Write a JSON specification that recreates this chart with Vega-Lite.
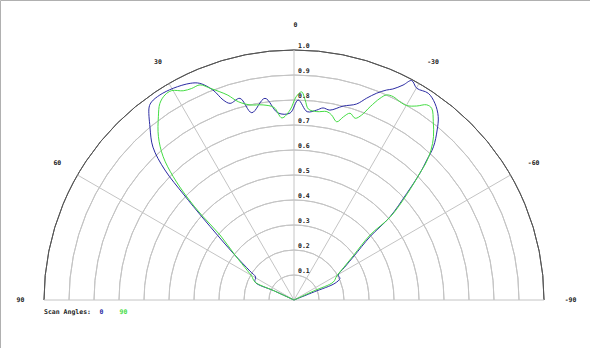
{
"$schema":"https://vega.github.io/schema/vega-lite/v6.json",
"width":590,"height":348,
"autosize":{"type":"fit","contains":"padding"},
"padding":0,
"background":"#ffffff",
"view":{"stroke":"#b0b0b0","strokeWidth":1},
"config":{"font":"DejaVu Sans Mono"},
"datasets":{
 "rings":[{"r":0.1,"label":"0.1"},{"r":0.2,"label":"0.2"},{"r":0.3,"label":"0.3"},{"r":0.4,"label":"0.4"},{"r":0.5,"label":"0.5"},{"r":0.6,"label":"0.6"},{"r":0.7,"label":"0.7"},{"r":0.8,"label":"0.8"},{"r":0.9,"label":"0.9"},{"r":1.0,"label":"1.0"}],
 "spokes":[{"a":0},{"a":30},{"a":-30},{"a":60},{"a":-60},{"a":90},{"a":-90}],
 "angleLabels":[{"a":0,"label":"0"},{"a":30,"label":"30"},{"a":-30,"label":"-30"},{"a":60,"label":"60"},{"a":-60,"label":"-60"},{"a":90,"label":"90"},{"a":-90,"label":"-90"}],
 "patterns":[
  {"scan":"0","angle":90,"r":0},{"scan":"0","angle":65.2,"r":0.086},{"scan":"0","angle":65.2,"r":0.172},{"scan":"0","angle":59.1,"r":0.179},{"scan":"0","angle":56.7,"r":0.211},{"scan":"0","angle":52.4,"r":0.308},{"scan":"0","angle":48.0,"r":0.49},{"scan":"0","angle":46.3,"r":0.608},{"scan":"0","angle":44.8,"r":0.733},{"scan":"0","angle":42.7,"r":0.832},{"scan":"0","angle":39.8,"r":0.9},{"scan":"0","angle":36.9,"r":0.965},{"scan":"0","angle":35.7,"r":0.976},{"scan":"0","angle":33.2,"r":0.98},{"scan":"0","angle":29.7,"r":0.975},{"scan":"0","angle":25.6,"r":0.961},{"scan":"0","angle":23.5,"r":0.945},{"scan":"0","angle":21.1,"r":0.9},{"scan":"0","angle":19.5,"r":0.849},{"scan":"0","angle":18.0,"r":0.827},{"scan":"0","angle":15.0,"r":0.835},{"scan":"0","angle":12.7,"r":0.768},{"scan":"0","angle":8.2,"r":0.815},{"scan":"0","angle":4.9,"r":0.751},{"scan":"0","angle":1.2,"r":0.748},{"scan":"0","angle":-1.2,"r":0.8},{"scan":"0","angle":-4.0,"r":0.755},{"scan":"0","angle":-6.8,"r":0.765},{"scan":"0","angle":-8.6,"r":0.777},{"scan":"0","angle":-10.7,"r":0.773},{"scan":"0","angle":-14.2,"r":0.8},{"scan":"0","angle":-17.7,"r":0.823},{"scan":"0","angle":-19.8,"r":0.858},{"scan":"0","angle":-21.8,"r":0.891},{"scan":"0","angle":-23.8,"r":0.918},{"scan":"0","angle":-25.1,"r":0.932},{"scan":"0","angle":-26.9,"r":0.964},{"scan":"0","angle":-28.2,"r":0.996},{"scan":"0","angle":-30.1,"r":0.979},{"scan":"0","angle":-33.0,"r":0.986},{"scan":"0","angle":-35.6,"r":0.968},{"scan":"0","angle":-38.2,"r":0.933},{"scan":"0","angle":-40.1,"r":0.889},{"scan":"0","angle":-42.3,"r":0.829},{"scan":"0","angle":-43.5,"r":0.772},{"scan":"0","angle":-44.8,"r":0.715},{"scan":"0","angle":-46.6,"r":0.621},{"scan":"0","angle":-49.1,"r":0.508},{"scan":"0","angle":-50.2,"r":0.396},{"scan":"0","angle":-53.7,"r":0.299},{"scan":"0","angle":-57.1,"r":0.241},{"scan":"0","angle":-60.6,"r":0.203},{"scan":"0","angle":-64.8,"r":0.203},{"scan":"0","angle":-67.8,"r":0.177},{"scan":"0","angle":-68.0,"r":0.088},{"scan":"0","angle":-90,"r":0},
  {"scan":"90","angle":90,"r":0},{"scan":"90","angle":65.2,"r":0.086},{"scan":"90","angle":65.2,"r":0.172},{"scan":"90","angle":60.4,"r":0.195},{"scan":"90","angle":57.8,"r":0.22},{"scan":"90","angle":52.7,"r":0.297},{"scan":"90","angle":48.7,"r":0.394},{"scan":"90","angle":47.4,"r":0.502},{"scan":"90","angle":46.1,"r":0.594},{"scan":"90","angle":44.4,"r":0.69},{"scan":"90","angle":42.4,"r":0.776},{"scan":"90","angle":39.7,"r":0.849},{"scan":"90","angle":36.5,"r":0.912},{"scan":"90","angle":34.3,"r":0.952},{"scan":"90","angle":32.2,"r":0.969},{"scan":"90","angle":30.3,"r":0.97},{"scan":"90","angle":27.9,"r":0.947},{"scan":"90","angle":25.8,"r":0.94},{"scan":"90","angle":23.6,"r":0.939},{"scan":"90","angle":21.6,"r":0.911},{"scan":"90","angle":19.6,"r":0.884},{"scan":"90","angle":17.9,"r":0.861},{"scan":"90","angle":15.7,"r":0.824},{"scan":"90","angle":12.7,"r":0.8},{"scan":"90","angle":9.0,"r":0.79},{"scan":"90","angle":5.9,"r":0.774},{"scan":"90","angle":3.8,"r":0.73},{"scan":"90","angle":1.2,"r":0.76},{"scan":"90","angle":-0.6,"r":0.813},{"scan":"90","angle":-2.1,"r":0.833},{"scan":"90","angle":-3.2,"r":0.801},{"scan":"90","angle":-4.3,"r":0.766},{"scan":"90","angle":-6.9,"r":0.759},{"scan":"90","angle":-9.9,"r":0.765},{"scan":"90","angle":-11.5,"r":0.755},{"scan":"90","angle":-13.5,"r":0.733},{"scan":"90","angle":-15.1,"r":0.759},{"scan":"90","angle":-16.7,"r":0.78},{"scan":"90","angle":-18.6,"r":0.767},{"scan":"90","angle":-20.1,"r":0.788},{"scan":"90","angle":-21.5,"r":0.831},{"scan":"90","angle":-23.1,"r":0.877},{"scan":"90","angle":-24.3,"r":0.9},{"scan":"90","angle":-26.0,"r":0.905},{"scan":"90","angle":-28.1,"r":0.899},{"scan":"90","angle":-30.1,"r":0.899},{"scan":"90","angle":-32.3,"r":0.918},{"scan":"90","angle":-34.2,"r":0.944},{"scan":"90","angle":-35.7,"r":0.944},{"scan":"90","angle":-38.0,"r":0.905},{"scan":"90","angle":-40.5,"r":0.859},{"scan":"90","angle":-42.4,"r":0.813},{"scan":"90","angle":-43.9,"r":0.761},{"scan":"90","angle":-44.6,"r":0.724},{"scan":"90","angle":-46.8,"r":0.623},{"scan":"90","angle":-49.2,"r":0.51},{"scan":"90","angle":-49.5,"r":0.4},{"scan":"90","angle":-53.2,"r":0.297},{"scan":"90","angle":-56.9,"r":0.236},{"scan":"90","angle":-60.7,"r":0.196},{"scan":"90","angle":-65.4,"r":0.173},{"scan":"90","angle":-65.4,"r":0.087},{"scan":"90","angle":-90,"r":0}
 ]
},
"encoding":{
 "x":{"field":"x","type":"quantitative","scale":{"domain":[-1.176,1.184],"nice":false,"zero":false},"axis":null},
 "y":{"field":"y","type":"quantitative","scale":{"domain":[-0.192,1.2],"nice":false,"zero":false},"axis":null}
},
"layer":[
 {"data":{"name":"rings"},
  "transform":[{"calculate":"0","as":"x"},{"calculate":"0","as":"y"}],
  "mark":{"type":"arc","theta":-1.5707963268,"theta2":1.5707963268,"filled":false,"strokeWidth":1},
  "encoding":{
   "radius":{"field":"r","type":"quantitative","scale":{"type":"linear","domain":[0,1],"range":[0,250],"zero":true}},
   "radius2":{"field":"r"},
   "stroke":{"condition":{"test":"datum.r>=1","value":"#555555"},"value":"#c4c4c4"}}},
 {"data":{"name":"spokes"},
  "transform":[{"calculate":"0","as":"x"},{"calculate":"0","as":"y"},{"calculate":"-sin(datum.a*PI/180)","as":"x2"},{"calculate":"cos(datum.a*PI/180)","as":"y2"}],
  "mark":{"type":"rule","stroke":"#c4c4c4","strokeWidth":1},
  "encoding":{"x2":{"field":"x2"},"y2":{"field":"y2"}}},
 {"data":{"name":"patterns"},
  "transform":[{"calculate":"-datum.r*sin(datum.angle*PI/180)","as":"x"},{"calculate":"datum.r*cos(datum.angle*PI/180)","as":"y"}],
  "mark":{"type":"line","strokeWidth":1,"interpolate":"catmull-rom"},
  "encoding":{
   "color":{"field":"scan","type":"nominal","scale":{"domain":["0","90"],"range":["#2b2ba3","#44dd44"]},
    "legend":{"title":"Scan Angles:","orient":"none","legendX":44,"legendY":309,"direction":"horizontal","titleOrient":"left","titleFont":"DejaVu Sans Mono","titleFontSize":6.5,"titleFontWeight":"bold","titleColor":"#222222","titlePadding":2,"labelFont":"DejaVu Sans Mono","labelFontSize":6.5,"labelFontWeight":"bold","symbolSize":0,"symbolOpacity":0,"symbolStrokeWidth":0,"labelOffset":0,"columnPadding":9,
     "encode":{"labels":{"update":{"fill":{"scale":"color","field":"value"}}}}}},
   "order":{"value":null}}},
 {"data":{"name":"rings"},
  "transform":[{"calculate":"0","as":"x"},{"calculate":"datum.r","as":"y"}],
  "mark":{"type":"text","align":"left","baseline":"alphabetic","dx":4,"dy":-2,"fontSize":6.5,"fontWeight":"bold","color":"#222222","font":"DejaVu Sans Mono"},
  "encoding":{"text":{"field":"label"}}},
 {"data":{"name":"angleLabels"},
  "transform":[{"calculate":"-1.1*sin(datum.a*PI/180)","as":"x"},{"calculate":"1.1*cos(datum.a*PI/180)","as":"y"}],
  "mark":{"type":"text","align":"center","baseline":"middle","dx":1.5,"fontSize":6.5,"fontWeight":"bold","color":"#222222","font":"DejaVu Sans Mono"},
  "encoding":{"text":{"field":"label"}}}
]
}
